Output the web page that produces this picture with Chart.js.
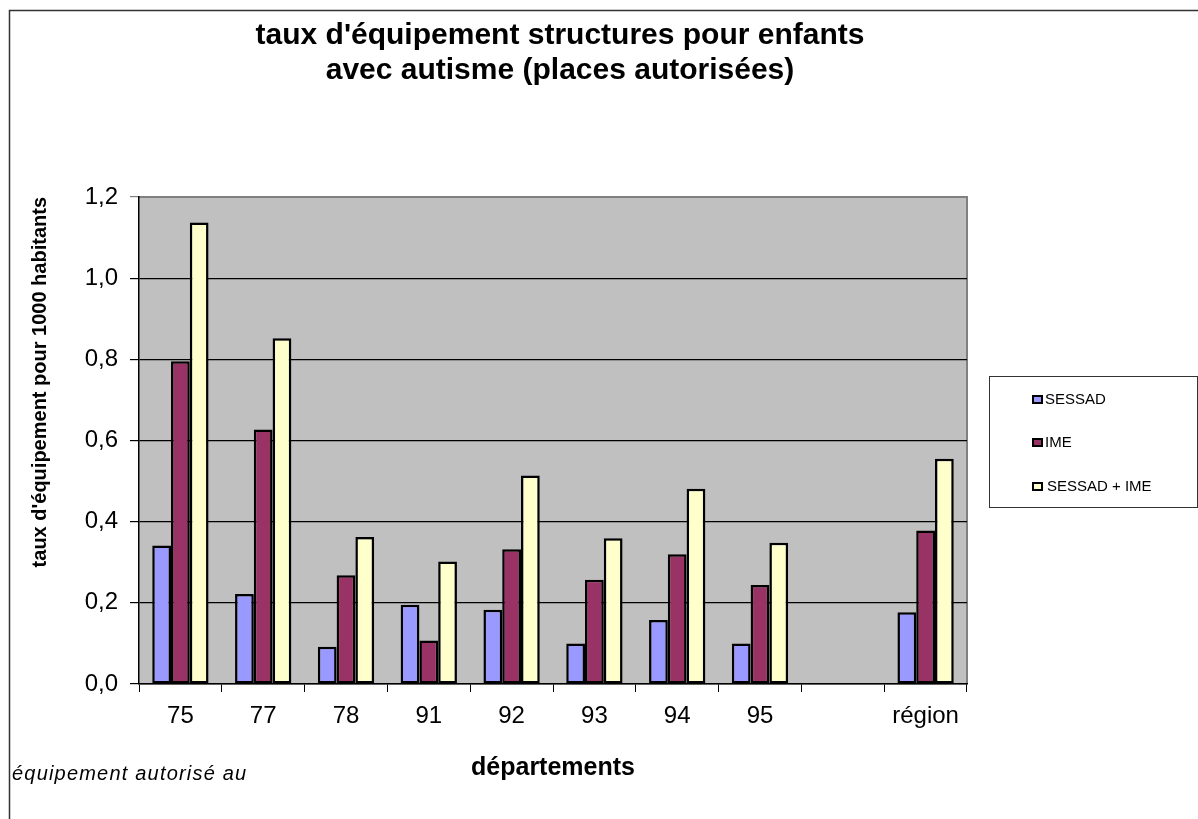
<!DOCTYPE html>
<html>
<head>
<meta charset="utf-8">
<script src="https://cdn.jsdelivr.net/npm/chart.js@4/dist/chart.umd.min.js"></script>
<style>
html,body{margin:0;padding:0;background:#fff;}
#wrap{width:1198px;height:819px;position:relative;}
</style>
</head>
<body>
<div id="wrap"><canvas id="c" width="1198" height="819"></canvas></div>
<script>
const categories = ['75','77','78','91','92','93','94','95','','région'];
const sessad = [0.341, 0.222, 0.092, 0.195, 0.183, 0.100, 0.158, 0.100, null, 0.177];
const ime = [0.795, 0.627, 0.268, 0.107, 0.332, 0.257, 0.320, 0.244, null, 0.378];
const total = [1.137, 0.852, 0.362, 0.302, 0.514, 0.359, 0.481, 0.348, null, 0.555];
const seriesNames = ['SESSAD', 'IME', 'SESSAD + IME'];
const seriesColors = ['#9999FF', '#993366', '#FFFFCC'];
const titleLines = ["taux d'équipement structures pour enfants", "avec autisme (places autorisées)"];
const yTitle = "taux d'équipement pour 1000 habitants";
const xTitle = 'départements';
const footnote = 'équipement autorisé au';

const FONT = '"Liberation Sans", Arial, sans-serif';

const decor = {
  id: 'decor',
  beforeDraw(chart) {
    const ctx = chart.ctx, a = chart.chartArea;
    ctx.save();
    ctx.fillStyle = '#fff';
    ctx.fillRect(0, 0, chart.width, chart.height);
    ctx.fillStyle = '#C0C0C0';
    ctx.fillRect(a.left, a.top, a.right - a.left, a.bottom - a.top);
    ctx.strokeStyle = '#808080';
    ctx.lineWidth = 2;
    ctx.beginPath();
    ctx.moveTo(a.left, a.top); ctx.lineTo(a.right, a.top); ctx.lineTo(a.right, a.bottom);
    ctx.stroke();
    // outer frame
    ctx.strokeStyle = '#333';
    ctx.lineWidth = 1.5;
    ctx.beginPath();
    ctx.moveTo(9.5, chart.height); ctx.lineTo(9.5, 10.5); ctx.lineTo(chart.width, 10.5);
    ctx.stroke();
    ctx.restore();
  },
  afterDraw(chart) {
    const ctx = chart.ctx;
    ctx.save();
    // title
    ctx.fillStyle = '#000';
    ctx.textAlign = 'center';
    ctx.textBaseline = 'middle';
    ctx.font = 'bold 30px ' + FONT;
    ctx.fillText(titleLines[0], 560, 36);
    ctx.fillText(titleLines[1], 560, 71);
    // footnote
    ctx.textAlign = 'left';
    ctx.font = 'italic 20px ' + FONT;
    if ('letterSpacing' in ctx) ctx.letterSpacing = '1.2px';
    ctx.fillText(footnote, 12, 774);
    if ('letterSpacing' in ctx) ctx.letterSpacing = '0px';
    // legend
    const lx = 989, ly = 376, lw = 208, lh = 131;
    ctx.fillStyle = '#fff';
    ctx.fillRect(lx, ly, lw, lh);
    ctx.strokeStyle = '#333';
    ctx.lineWidth = 1;
    ctx.strokeRect(lx + 0.5, ly + 0.5, lw, lh);
    const ys = [399, 442, 486];
    ctx.font = '15px ' + FONT;
    ctx.textBaseline = 'middle';
    chart.data.datasets.forEach((ds, i) => {
      ctx.fillStyle = '#000';
      ctx.fillRect(1032, ys[i] - 4, 11, 9);
      ctx.fillStyle = ds.backgroundColor;
      ctx.fillRect(1034, ys[i] - 2, 7, 5);
      ctx.fillStyle = '#000';
      ctx.fillText(ds.label, i === 2 ? 1047 : 1045, ys[i] + 1);
    });
    ctx.restore();
  }
};

new Chart(document.getElementById('c'), {
  type: 'bar',
  data: {
    labels: categories,
    datasets: [
      { label: seriesNames[0], data: sessad, backgroundColor: seriesColors[0] },
      { label: seriesNames[1], data: ime, backgroundColor: seriesColors[1] },
      { label: seriesNames[2], data: total, backgroundColor: seriesColors[2] }
    ]
  },
  options: {
    responsive: false,
    animation: false,
    devicePixelRatio: 1,
    layout: { padding: { left: 0, top: 197, right: 231, bottom: 0 } },
    datasets: {
      bar: {
        borderColor: '#000',
        borderWidth: 2.5,
        borderSkipped: false,
        categoryPercentage: 0.68,
        barPercentage: 1.0
      }
    },
    plugins: {
      legend: { display: false },
      title: { display: false },
      tooltip: { enabled: false }
    },
    scales: {
      x: {
        afterFit(s) { s.height = 135; },
        grid: { drawOnChartArea: false, drawTicks: true, tickLength: 8, color: '#000', offset: true },
        border: { display: true, color: '#000', width: 1.5 },
        ticks: { color: '#000', font: { family: FONT, size: 24 }, padding: 10, maxRotation: 0, autoSkip: false },
        title: { display: true, text: xTitle, color: '#000', font: { family: FONT, size: 25, weight: 'bold' }, padding: { top: 0, bottom: 36 } }
      },
      y: {
        min: 0, max: 1.2,
        afterFit(s) { s.width = 139; },
        grid: {
          color: (c) => (c.tick && c.tick.value >= 1.19) ? '#808080' : '#000',
          tickLength: 9,
          lineWidth: 1.2
        },
        border: { display: true, color: '#000', width: 1.5 },
        ticks: {
          stepSize: 0.2,
          color: '#000',
          padding: 12,
          font: { family: FONT, size: 24 },
          callback: (v) => Number(v).toFixed(1).replace('.', ',')
        },
        title: { display: true, text: yTitle, align: 'end', color: '#000', font: { family: FONT, size: 20, weight: 'bold' }, padding: { top: 28, bottom: 0 } }
      }
    }
  },
  plugins: [decor]
});
</script>
</body>
</html>
